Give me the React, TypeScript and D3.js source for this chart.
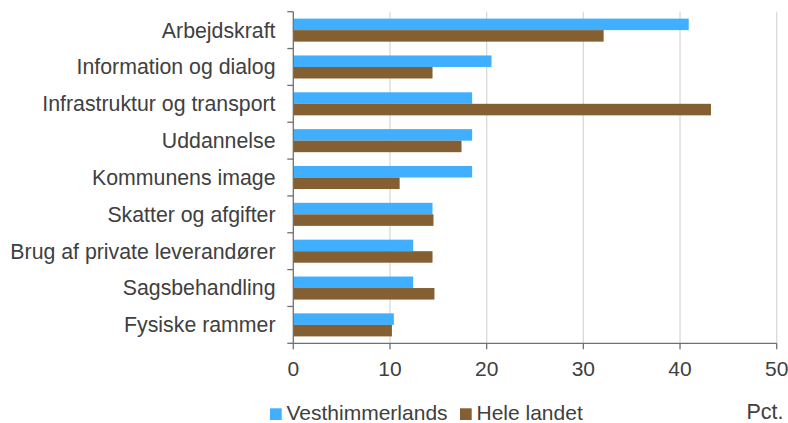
import React from "react";
import * as d3 from "d3";

const categories = [
  "Arbejdskraft",
  "Information og dialog",
  "Infrastruktur og transport",
  "Uddannelse",
  "Kommunens image",
  "Skatter og afgifter",
  "Brug af private leverandører",
  "Sagsbehandling",
  "Fysiske rammer",
];
const seriesNames = ["Vesthimmerlands", "Hele landet"];
const vesthimmerlands = [40.9, 20.5, 18.5, 18.5, 18.5, 14.4, 12.4, 12.4, 10.4];
const heleLandet = [32.1, 14.4, 43.2, 17.4, 11.0, 14.5, 14.4, 14.6, 10.2];
const xTicks = [0, 10, 20, 30, 40, 50];
const unitLabel = "Pct.";

const colors = ["#41afff", "#845f31"];
const font = "'Liberation Sans', Arial, sans-serif";
const textColor = "#404040";
const axisColor = "#707070";

export default function App() {
  const W = 788, H = 423;
  const x = d3.scaleLinear().domain([0, 50]).range([293.3, 776.7]);
  const y0 = d3.scaleBand<string>().domain(categories).range([11.7, 343.3]).padding(0);
  const y1 = d3.scaleBand<string>().domain(seriesNames).range([6.9, y0.bandwidth() - 6.9]).padding(0);
  const series = [vesthimmerlands, heleLandet];
  const bottom = 343.3;
  const left = x(0);

  return (
    <svg width={W} height={H} style={{ position: "absolute", left: 0, top: 0, background: "#fff" }}>
      {xTicks.slice(1).map((t) => (
        <line key={"g" + t} x1={x(t)} x2={x(t)} y1={y0.range()[0]} y2={bottom} stroke="#d9d9d9" strokeWidth={1.3} />
      ))}
      {categories.map((c, i) => (
        <g key={c}>
          {series.map((s, j) => (
            <rect
              key={j}
              x={left}
              y={(y0(c) as number) + (y1(seriesNames[j]) as number)}
              width={x(s[i]) - left}
              height={y1.bandwidth()}
              fill={colors[j]}
            />
          ))}
          <text
            x={275.5}
            y={(y0(c) as number) + y0.bandwidth() / 2}
            dy="0.35em"
            textAnchor="end"
            fontFamily={font}
            fontSize={21.3}
            fill={textColor}
          >
            {c}
          </text>
        </g>
      ))}
      {/* y axis */}
      <line x1={left} x2={left} y1={y0.range()[0]} y2={bottom} stroke={axisColor} strokeWidth={1.3} />
      {[...categories.map((c) => y0(c) as number), bottom].map((yy, i) => (
        <line key={"yt" + i} x1={left - 6} x2={left} y1={yy} y2={yy} stroke={axisColor} strokeWidth={1.3} />
      ))}
      {/* x axis */}
      <line x1={left} x2={x(50)} y1={bottom} y2={bottom} stroke={axisColor} strokeWidth={1.3} />
      {xTicks.map((t) => (
        <g key={"xt" + t}>
          <line x1={x(t)} x2={x(t)} y1={bottom} y2={bottom + 6} stroke={axisColor} strokeWidth={1.3} />
          <text x={x(t)} y={376} textAnchor="middle" fontFamily={font} fontSize={21} fill={textColor}>
            {t}
          </text>
        </g>
      ))}
      {/* legend */}
      {seriesNames.map((n, j) => {
        const lx = [270, 460][j];
        return (
          <g key={n}>
            <rect x={lx} y={408.3} width={11.7} height={11.7} fill={colors[j]} />
            <text x={lx + 16.5} y={420} fontFamily={font} fontSize={21} fill={textColor}>
              {n}
            </text>
          </g>
        );
      })}
      <text x={783.5} y={419} textAnchor="end" fontFamily={font} fontSize={21.5} fill={textColor}>
        {unitLabel}
      </text>
    </svg>
  );
}
